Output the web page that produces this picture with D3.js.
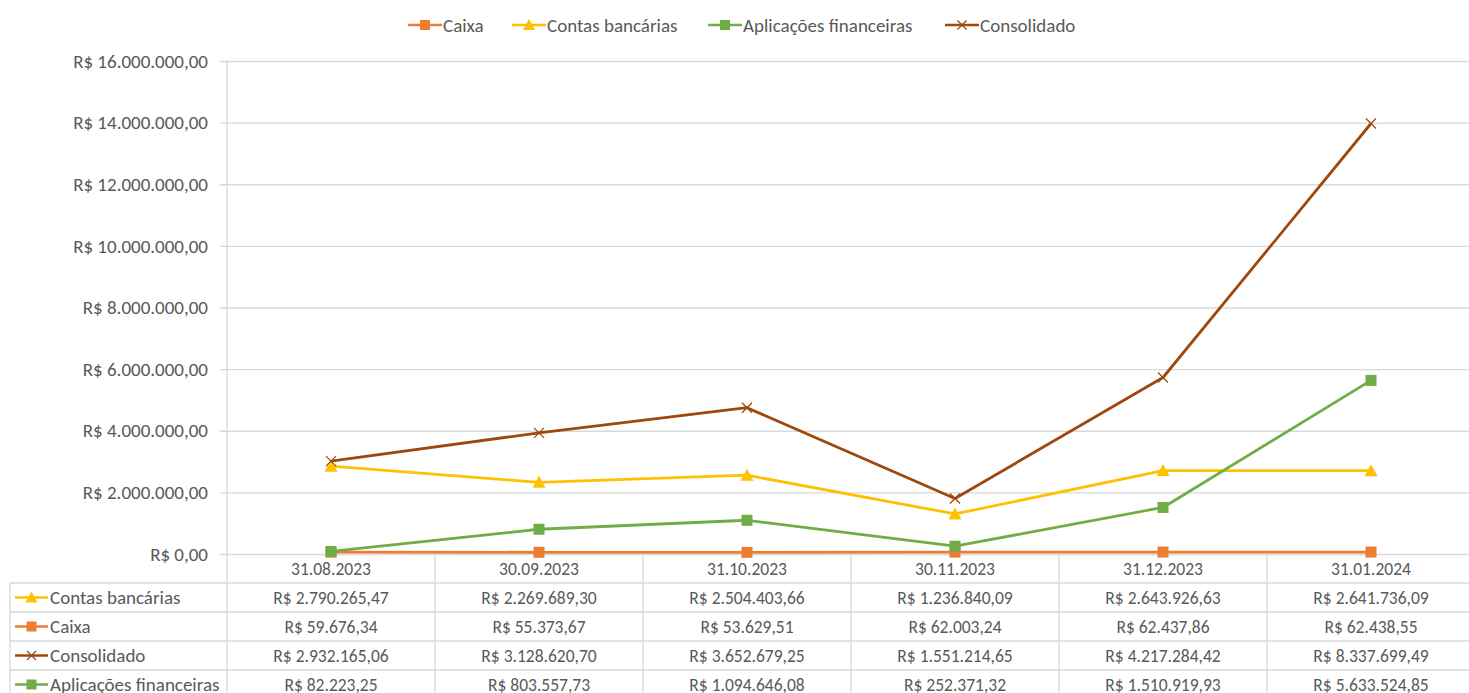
<!DOCTYPE html>
<html>
<head>
<meta charset="utf-8">
<script src="https://cdn.jsdelivr.net/npm/d3@7"></script>
<style>
  body { margin: 0; background: #fff; }
  text { font-family: Carlito, "Liberation Sans Narrow", Lato, "Liberation Sans", Arial, sans-serif; fill: #595959; }
</style>
</head>
<body>
<div class="chart"></div>
<script>
// data
var dates = ["31.08.2023", "30.09.2023", "31.10.2023", "30.11.2023", "31.12.2023", "31.01.2024"];
var caixa = [59676.34, 55373.67, 53629.51, 62003.24, 62437.86, 62438.55];
var contas = [2790265.47, 2269689.30, 2504403.66, 1236840.09, 2643926.63, 2641736.09];
var aplicacoes = [82223.25, 803557.73, 1094646.08, 252371.32, 1510919.93, 5633524.85];
var consolidado = [2932165.06, 3128620.70, 3652679.25, 1551214.65, 4217284.42, 8337699.49];
var yTicks = [0, 2e6, 4e6, 6e6, 8e6, 10e6, 12e6, 14e6, 16e6];

var svgWidth = 1469;
var svgHeight = 693;
var fontSize = "17.5px";
var bigFont = "19px";

var br = d3.formatLocale({ decimal: ",", thousands: ".", grouping: [3], currency: ["R$ ", ""] });
var money = br.format("$,.2f");

var svg = d3.select(".chart")
  .append("svg")
  .attr("width", svgWidth)
  .attr("height", svgHeight);

// plot area
var plotLeft = 227, plotRight = 1475, plotTop = 61, plotBottom = 554;

var x = d3.scaleBand().domain(dates).range([plotLeft, plotRight]);
var y = d3.scaleLinear().domain([0, 16e6]).range([plotBottom, plotTop]);

// series as Excel plots them: stacked line groups (caixa+contas, aplicacoes+consolidado)
var series = [
  { name: "Caixa", color: "#ED7D31", marker: "square", values: caixa },
  { name: "Contas bancárias", color: "#FFC000", marker: "triangle", values: contas.map((v, i) => v + caixa[i]) },
  { name: "Aplicações financeiras", color: "#70AD47", marker: "square", values: aplicacoes },
  { name: "Consolidado", color: "#9E480E", marker: "cross", values: consolidado.map((v, i) => v + aplicacoes[i]) }
];

// gridlines
svg.append("g")
  .attr("transform", `translate(${plotLeft}, 0)`)
  .call(d3.axisLeft(y).tickValues(yTicks).tickSize(-(plotRight - plotLeft)).tickFormat(""))
  .call(g => g.select(".domain").remove())
  .call(g => g.selectAll("line").attr("stroke", "#d9d9d9").attr("stroke-width", 1.3).attr("x1", -7));

svg.selectAll(".ylab")
  .data(yTicks)
  .enter().append("text")
  .attr("x", 208)
  .attr("y", d => y(d))
  .attr("dy", "0.35em")
  .attr("text-anchor", "end")
  .style("font-size", bigFont)
  .text(d => money(d));

// axis + table grid
var grid = svg.append("g").attr("stroke", "#d9d9d9").attr("stroke-width", 1.3);
grid.append("line").attr("x1", plotLeft).attr("x2", plotLeft).attr("y1", plotTop).attr("y2", svgHeight);
dates.forEach(function(d) {
  grid.append("line")
    .attr("x1", x(d) + x.bandwidth()).attr("x2", x(d) + x.bandwidth())
    .attr("y1", plotBottom).attr("y2", svgHeight);
});

var rowTop = 583, rowH = 29;
var rows = [
  { s: series[1], vals: contas },
  { s: series[0], vals: caixa },
  { s: series[3], vals: consolidado },
  { s: series[2], vals: aplicacoes }
];
grid.append("line").attr("x1", 10).attr("x2", 10).attr("y1", rowTop).attr("y2", svgHeight);
rows.forEach(function(r, i) {
  grid.append("line").attr("x1", 10).attr("x2", plotRight).attr("y1", rowTop + i * rowH).attr("y2", rowTop + i * rowH);
});

svg.selectAll(".xlab")
  .data(dates)
  .enter().append("text")
  .attr("x", d => x(d) + x.bandwidth() / 2)
  .attr("y", 569)
  .attr("dy", "0.35em")
  .attr("text-anchor", "middle")
  .style("font-size", fontSize)
  .text(d => d);

function drawMarker(g, type, color, cx, cy, size) {
  if (type === "square") {
    g.append("rect").attr("x", cx - size / 2).attr("y", cy - size / 2)
      .attr("width", size).attr("height", size).attr("fill", color);
  } else if (type === "triangle") {
    var h = size;
    g.append("path")
      .attr("d", `M${cx},${cy - h / 2 - 1}L${cx + h / 2 + 1},${cy + h / 2}L${cx - h / 2 - 1},${cy + h / 2}Z`)
      .attr("fill", color);
  } else {
    var a = size / 2;
    g.append("path")
      .attr("d", `M${cx - a},${cy - a}L${cx + a},${cy + a}M${cx - a},${cy + a}L${cx + a},${cy - a}`)
      .attr("stroke", color).attr("stroke-width", 1.3).attr("fill", "none");
  }
}

rows.forEach(function(r, i) {
  var cy = rowTop + i * rowH + rowH / 2;
  var g = svg.append("g");
  g.append("line").attr("x1", 15).attr("x2", 48).attr("y1", cy).attr("y2", cy)
    .attr("stroke", r.s.color).attr("stroke-width", 2.5);
  drawMarker(g, r.s.marker, r.s.color, 31.5, cy, r.s.marker === "cross" ? 9 : 10);
  g.append("text").attr("x", 50).attr("y", cy).attr("dy", "0.35em")
    .style("font-size", bigFont).text(r.s.name);
  g.selectAll(".cell")
    .data(r.vals)
    .enter().append("text")
    .attr("x", (d, j) => x(dates[j]) + x.bandwidth() / 2)
    .attr("y", cy)
    .attr("dy", "0.35em")
    .attr("text-anchor", "middle")
    .style("font-size", fontSize)
    .text(d => money(d));
});

// lines
var line = d3.line()
  .x((d, i) => x(dates[i]) + x.bandwidth() / 2)
  .y(d => y(d));

series.forEach(function(s) {
  var g = svg.append("g");
  g.append("path")
    .datum(s.values)
    .attr("d", line)
    .attr("fill", "none")
    .attr("stroke", s.color)
    .attr("stroke-width", 2.8)
    .attr("stroke-linejoin", "round");
  s.values.forEach(function(v, i) {
    drawMarker(g, s.marker, s.color, x(dates[i]) + x.bandwidth() / 2, y(v), s.marker === "cross" ? 10 : 11);
  });
});

// legend
var legendX = [408, 512, 708, 945];
series.forEach(function(s, i) {
  var g = svg.append("g").attr("transform", `translate(${legendX[i]}, 25)`);
  g.append("line").attr("x1", 0).attr("x2", 34).attr("stroke", s.color).attr("stroke-width", 2.5);
  drawMarker(g, s.marker, s.color, 17, 0, s.marker === "cross" ? 9 : 10);
  g.append("text").attr("x", 35).attr("dy", "0.35em").style("font-size", bigFont).text(s.name);
});
</script>
</body>
</html>
